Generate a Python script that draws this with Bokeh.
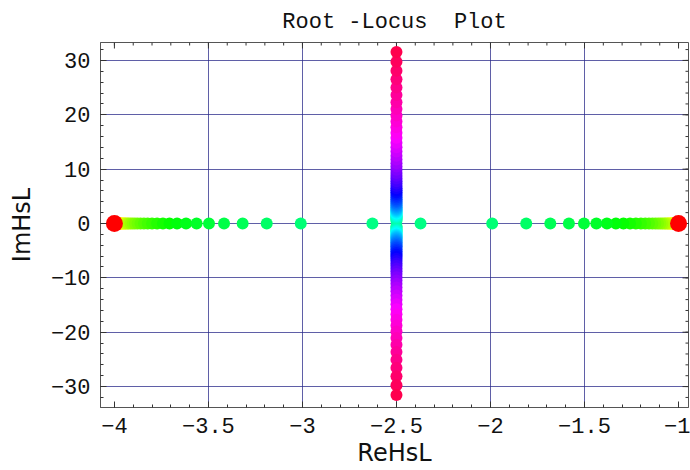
import colorsys
import math
import numpy as np
from bokeh.plotting import figure
from bokeh.models import ColumnDataSource, FixedTicker, Range1d
from bokeh.embed import file_html
from bokeh.resources import INLINE

# ---------------- data ----------------
title_text = "Root -Locus\u00a0 Plot"
x_label = "ReHsL"
y_label = "ImHsL"

# open-loop poles
poles_re = [-4.0, -1.0]
poles_im = [0.0, 0.0]

# real-axis branches (from breakaway point outward)
left_re = [-2.628, -3.009, -3.190, -3.318, -3.417, -3.497, -3.563, -3.619, -3.667,
           -3.707, -3.742, -3.773, -3.800, -3.823, -3.843, -3.861, -3.877, -3.891,
           -3.903, -3.914, -3.924, -3.932, -3.940, -3.946, -3.952, -3.958, -3.962,
           -3.966, -3.970, -3.973, -3.976, -3.979, -3.981, -3.983, -3.985, -3.987,
           -3.988, -3.989, -3.991, -3.992, -3.993, -3.993, -3.994, -3.995, -3.995,
           -3.996, -3.996, -3.997]
right_re = [-2.372, -1.991, -1.810, -1.682, -1.583, -1.503, -1.437, -1.381, -1.333,
            -1.293, -1.258, -1.227, -1.200, -1.177, -1.157, -1.139, -1.123, -1.109,
            -1.097, -1.086, -1.076, -1.068, -1.060, -1.054, -1.048, -1.042, -1.038,
            -1.034, -1.030, -1.027, -1.024, -1.021, -1.019, -1.017, -1.015, -1.013,
            -1.012, -1.011, -1.009, -1.008, -1.007, -1.007, -1.006, -1.005, -1.005,
            -1.004, -1.004, -1.003]

# complex branches: real part and imaginary magnitude (upper +, lower -)
complex_re = -2.5
imag_mag = [0.506, 0.750, 0.951, 1.136, 1.312, 1.485, 1.658, 1.833, 2.011, 2.194,
            2.382, 2.577, 2.780, 2.991, 3.211, 3.441, 3.683, 3.936, 4.202, 4.482,
            4.776, 5.086, 5.413, 5.757, 6.121, 6.505, 6.910, 7.338, 7.791, 8.269,
            8.775, 9.309, 9.875, 10.473, 11.106, 11.776, 12.484, 13.234, 14.028,
            14.869, 15.758, 16.700, 17.697, 18.753, 19.872, 21.055, 22.309, 23.637,
            25.043, 26.532, 28.109, 29.778, 31.547]

x_ticks = [-4, -3.5, -3, -2.5, -2, -1.5, -1]
x_tick_labels = ["\u22124", "\u22123.5", "\u22123", "\u22122.5", "\u22122", "\u22121.5", "\u22121"]
y_ticks = [-30, -20, -10, 0, 10, 20, 30]
y_tick_labels = ["\u221230", "\u221220", "\u221210", "0", "10", "20", "30"]
x_grid = [-3.5, -3, -2.5, -2, -1.5]

# ---------------- build points ----------------
xs, ys = [], []
for r in left_re + right_re:
    xs.append(r); ys.append(0.0)
for m in imag_mag:
    xs.append(complex_re); ys.append(m)
    xs.append(complex_re); ys.append(-m)


def gain(x, y):
    s = complex(x, y)
    return max(-((s + 1) * (s + 4)).real, 1e-4)


def hue_color(k):
    h = 0.2 * (math.log10(k) + 1.75)
    h = min(max(h, 0.0), 0.99)
    r, g, b = colorsys.hsv_to_rgb(h, 1.0, 1.0)
    return "#%02x%02x%02x" % (int(round(r * 255)), int(round(g * 255)), int(round(b * 255)))


pts = sorted(zip(xs, ys), key=lambda p: gain(*p))
src = ColumnDataSource(dict(
    x=[p[0] for p in pts],
    y=[p[1] for p in pts],
    c=[hue_color(gain(*p)) for p in pts],
))

# ---------------- figure ----------------
X0, X1 = -4.074, -0.947
Y0, Y1 = -33.85, 33.3
FW, FH = 588, 365
p = figure(width=690, height=470, output_backend="svg", toolbar_location=None,
           x_range=Range1d(X0, X1), y_range=Range1d(Y0, Y1),
           min_border_left=100, min_border_right=2, min_border_top=42, min_border_bottom=63,
           background_fill_color="white", border_fill_color="white")
p.outline_line_color = "#555555"
p.outline_line_width = 1

p.title.text = title_text
p.title.text_font = "Liberation Mono"
p.title.text_font_size = "22px"
p.title.text_font_style = "normal"
p.title.align = "center"
p.title.text_color = "#111111"
p.title.standoff = 12
p.title.vertical_align = "top"

grid_col = "#2a2a8a"
p.xgrid.ticker = FixedTicker(ticks=x_grid)
p.ygrid.ticker = FixedTicker(ticks=y_ticks)
for g in (p.xgrid[0], p.ygrid[0]):
    g.grid_line_color = grid_col
    g.grid_line_alpha = 0.75
    g.grid_line_width = 1

x_minor = [round(v, 2) for v in np.arange(-4.0, -0.95, 0.1)]
y_minor = list(range(-32, 33, 2))
p.xaxis.ticker = FixedTicker(ticks=x_ticks, minor_ticks=x_minor)
p.yaxis.ticker = FixedTicker(ticks=y_ticks, minor_ticks=y_minor)

for ax in (p.xaxis[0], p.yaxis[0]):
    ax.major_tick_in = 6
    ax.major_tick_out = 0
    ax.minor_tick_in = 3
    ax.minor_tick_out = 0
    ax.major_tick_line_color = "#333333"
    ax.minor_tick_line_color = "#333333"
    ax.axis_line_color = "#555555"
    ax.major_label_text_font = "Liberation Mono"
    ax.major_label_text_font_size = "22px"
    ax.major_label_text_color = "#111111"
    ax.axis_label_text_font = "DejaVu Sans"
    ax.axis_label_text_font_size = "24px"
    ax.axis_label_text_font_style = "normal"
    ax.axis_label_text_color = "#111111"

p.xaxis.major_label_overrides = {t: l for t, l in zip(x_ticks, x_tick_labels)}
p.yaxis.major_label_overrides = {t: l for t, l in zip(y_ticks, y_tick_labels)}
p.xaxis.major_label_standoff = 10
p.yaxis.major_label_standoff = 10
p.xaxis.axis_label = x_label
p.yaxis.axis_label = y_label
p.xaxis.axis_label_standoff = 3
p.yaxis.axis_label_standoff = 12

# frame ticks on top and right edges (inward), derived from tick lists
dy_per_px = (Y1 - Y0) / FH
dx_per_px = (X1 - X0) / FW
tx0, ty0, tx1, ty1 = [], [], [], []
for t in x_ticks:
    tx0.append(t); ty0.append(Y1); tx1.append(t); ty1.append(Y1 - 6 * dy_per_px)
for t in x_minor:
    tx0.append(t); ty0.append(Y1); tx1.append(t); ty1.append(Y1 - 3 * dy_per_px)
for t in y_ticks:
    tx0.append(X1); ty0.append(t); tx1.append(X1 - 6 * dx_per_px); ty1.append(t)
for t in y_minor:
    tx0.append(X1); ty0.append(t); tx1.append(X1 - 3 * dx_per_px); ty1.append(t)
p.segment(tx0, ty0, tx1, ty1, line_color="#333333", line_width=1)

p.scatter("x", "y", source=src, size=12, fill_color="c", line_color=None)
p.scatter(poles_re, poles_im, size=17, fill_color="#ff0000", line_color=None)

open("out.html", "w").write(file_html(p, INLINE))
